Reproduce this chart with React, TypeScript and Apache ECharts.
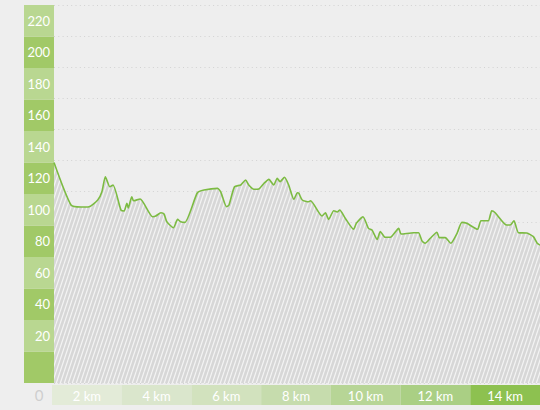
import React, { useEffect, useRef } from "react";
import * as echarts from "echarts";

// distance along route (km)
const distances = [
  0, 0.49, 0.78, 1.01, 1.26, 1.38, 1.48, 1.61, 1.7, 1.93, 2.02, 2.1, 2.14, 2.24, 2.29, 2.48,
  2.84, 2.93, 3.08, 3.17, 3.25, 3.44, 3.56, 3.65, 3.77, 4.13, 4.32, 4.71, 4.8, 4.97, 5.04,
  5.2, 5.38, 5.52, 5.61, 5.76, 5.9, 6.05, 6.19, 6.33, 6.43, 6.51, 6.64, 6.76, 6.91, 7.01,
  7.05, 7.15, 7.34, 7.39, 7.72, 7.82, 7.91, 8.06, 8.16, 8.23, 8.39, 8.63, 8.71, 8.9, 9.06,
  9.16, 9.31, 9.4, 9.54, 9.69, 9.93, 10.0, 10.36, 10.5, 10.6, 10.69, 10.84, 11.03, 11.1,
  11.27, 11.43, 11.61, 11.75, 11.89, 12.2, 12.3, 12.51, 12.61, 12.71, 13.04, 13.14, 13.25,
  13.38, 13.62, 13.81, 13.92, 14.0,
];
// elevation values
const elevations = [
  140, 113, 111.7, 111.9, 116.2, 121.5, 131, 124.6, 125.7, 109.8, 109.2, 114.1, 111.1, 118.3,
  115.7, 116.8, 105.6, 106, 108.1, 107.3, 102.4, 98.6, 103.9, 102.4, 102, 120.8, 122.5, 123.6,
  121.5, 111.9, 113, 124.6, 125.7, 128.9, 125.7, 123, 123.2, 126.8, 129.3, 125.7, 130, 127.8,
  130.6, 125.7, 116.6, 120.8, 120.6, 116.2, 115.1, 115.7, 106, 108.1, 103.9, 109.4, 108.6,
  109.8, 104.6, 97.6, 101.4, 105.6, 98.2, 97.1, 91.2, 96.1, 92.5, 92.5, 98.2, 94.6, 95.4, 95.4,
  90.2, 88.7, 91.9, 95.7, 92.3, 92.3, 88.7, 95, 102, 101.4, 97.6, 103, 103, 109.4, 108.1,
  100.3, 100.3, 103, 95.4, 95.2, 92.9, 88.7, 87.6,
];
const yLabels = ["", "20", "40", "60", "80", "100", "120", "140", "160", "180", "200", "220"];
const xLabels = ["2 km", "4 km", "6 km", "8 km", "10 km", "12 km", "14 km"];

const FONT = "Lato, 'Open Sans', sans-serif";
const bandColors = ["#a1c967", "#b9d791"];
const cellColors = ["#e3ebd8", "#dae6cc", "#d2e2be", "#c6dcad", "#b7d596", "#aacf84", "#8dc150"];

function makePattern() {
  const c = document.createElement("canvas");
  c.width = 4;
  c.height = 12;
  const ctx = c.getContext("2d")!;
  ctx.fillStyle = "#d7d7d7";
  ctx.fillRect(0, 0, 4, 12);
  ctx.strokeStyle = "#f3f3f3";
  ctx.lineWidth = 1.2;
  for (const x0 of [-4, 0, 4]) {
    ctx.beginPath();
    ctx.moveTo(x0, 12);
    ctx.lineTo(x0 + 4, 0);
    ctx.stroke();
  }
  return c;
}

export default function App() {
  const ref = useRef<HTMLDivElement>(null);
  useEffect(() => {
    if (!ref.current) return;
    const chart = echarts.init(ref.current, null, { renderer: "svg" });
    const pattern = makePattern();
    const data = distances.map((d, i) => [d, elevations[i]]);
    chart.setOption({
      animation: false,
      backgroundColor: "#eeeeee",
      grid: [
        { left: 54, right: 0, top: 5, bottom: 27 },
        { left: 24, width: 30, top: 5, bottom: 27 },
        { left: 52, right: 0, top: 385, height: 20 },
      ],
      xAxis: [
        { gridIndex: 0, type: "value", min: 0, max: 14, show: false },
        { gridIndex: 1, type: "value", show: false },
        {
          gridIndex: 2,
          type: "category",
          data: xLabels,
          axisLine: { show: false },
          axisTick: { show: false },
          axisLabel: { inside: true, interval: 0, margin: 3, color: "#ffffff", fontSize: 13, fontFamily: FONT },
          splitArea: { show: true, interval: 0, areaStyle: { color: cellColors } },
        },
      ],
      yAxis: [
        {
          gridIndex: 0,
          type: "value",
          min: 0,
          max: 240,
          axisLine: { show: false },
          axisTick: { show: false },
          axisLabel: { show: false },
          splitLine: { show: false },
        },
        {
          gridIndex: 0,
          type: "category",
          data: yLabels,
          position: "left",
          axisLine: { show: false },
          axisTick: { show: false },
          axisLabel: { interval: 0, margin: 4, color: "#ffffff", fontSize: 13, fontFamily: FONT },
          splitLine: { show: false },
        },
        {
          gridIndex: 0,
          type: "value",
          inverse: true,
          min: 0,
          max: 244,
          interval: 20,
          position: "left",
          axisLine: { show: false },
          axisTick: { show: false },
          axisLabel: { show: false },
          splitLine: { show: true, lineStyle: { color: "#d2d2d2", width: 1, type: [1, 3.3] } },
        },
        {
          gridIndex: 1,
          type: "category",
          data: yLabels,
          axisLine: { show: false },
          axisTick: { show: false },
          axisLabel: { show: false },
          splitArea: { show: true, interval: 0, areaStyle: { color: bandColors } },
        },
        { gridIndex: 2, type: "value", show: false },
      ],
      graphic: [
        {
          type: "text",
          x: 39,
          y: 395,
          style: {
            text: "0",
            fill: "#cfcfcf",
            fontSize: 15,
            fontFamily: FONT,
            align: "center",
            verticalAlign: "middle",
          },
        },
      ],
      series: [
        {
          type: "line",
          xAxisIndex: 0,
          yAxisIndex: 0,
          data,
          showSymbol: false,
          smooth: 0.2,
          lineStyle: { color: "#7cbb42", width: 1.6 },
          areaStyle: {
            opacity: 1,
            color: { image: pattern, repeat: "repeat", imageWidth: 4, imageHeight: 12 } as any,
          },
        },
      ],
    });
    return () => chart.dispose();
  }, []);
  return <div ref={ref} style={{ position: "fixed", left: 0, top: 0, width: 540, height: 410 }} />;
}
